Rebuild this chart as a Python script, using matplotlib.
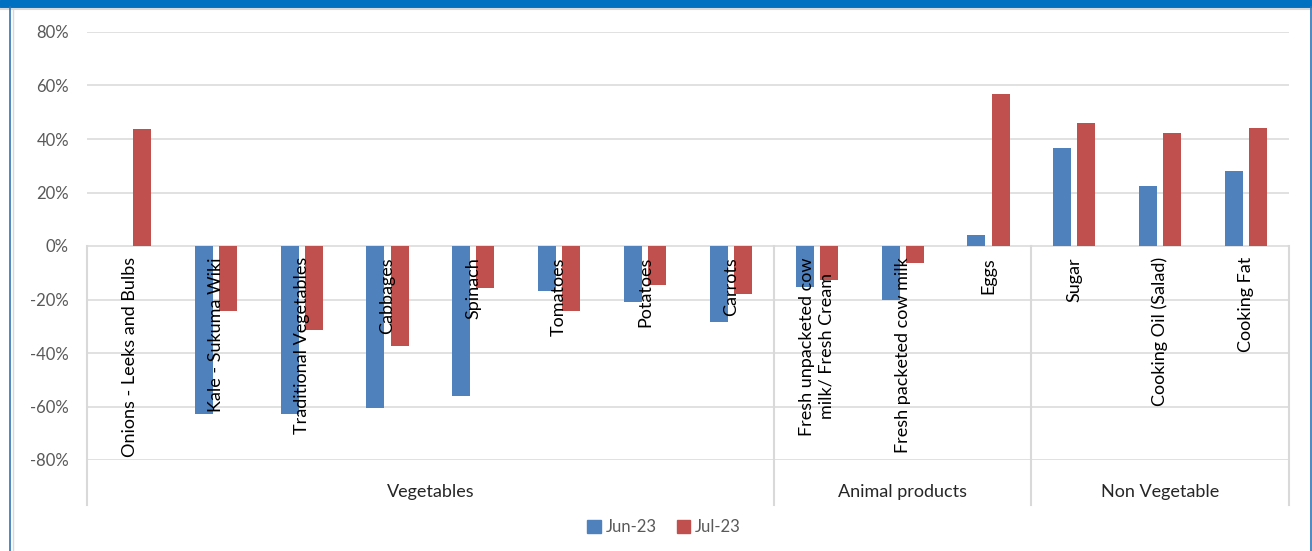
import numpy as np
import matplotlib
matplotlib.use("Agg")
import matplotlib.pyplot as plt
from matplotlib.patches import Rectangle, Patch
from matplotlib.lines import Line2D

plt.rcParams["font.family"] = ["Lato", "DejaVu Sans"]

items = ["Onions - Leeks and Bulbs", "Kale - Sukuma Wiki", "Traditional Vegetables",
         "Cabbages", "Spinach", "Tomatoes", "Potatoes", "Carrots",
         "Fresh unpacketed cow\nmilk/ Fresh Cream", "Fresh packeted cow milk", "Eggs",
         "Sugar", "Cooking Oil (Salad)", "Cooking Fat"]
groups = ["Vegetables", "Animal products", "Non Vegetable"]
group_sizes = [8, 3, 3]
jun23 = [0.0, -62.8, -62.8, -60.6, -56.0, -16.8, -20.9, -28.4,
         -15.3, -20.2, 4.1, 36.6, 22.4, 28.0]
jul23 = [43.7, -24.3, -31.4, -37.4, -15.7, -24.3, -14.6, -17.9,
         -12.7, -6.5, 56.8, 46.0, 42.2, 44.1]
series = ["Jun-23", "Jul-23"]

BLUE, RED = "#4F81BD", "#C0504D"
GRID = "#D9D9D9"
W, H = 1312, 551

fig = plt.figure(figsize=(W / 100, H / 100), dpi=100)

# frame: header band and side rules
fig.patches.append(Rectangle((0, 1 - 7 / H), 1, 7 / H, transform=fig.transFigure,
                             color="#0070C0", zorder=0))
fig.add_artist(Line2D([0, 1], [1 - 8.5 / H] * 2, color=GRID, lw=1.5))
fig.add_artist(Line2D([9.5 / W] * 2, [0, 1 - 7 / H], color="#2E75B6", lw=1.2))
fig.add_artist(Line2D([12.5 / W] * 2, [0, 1 - 9 / H], color=GRID, lw=1))
fig.add_artist(Line2D([1310.5 / W] * 2, [0, 1 - 7 / H], color="#2E75B6", lw=1.2))

left, right, top, bot = 87, 1289, 32, 460
ax = fig.add_axes([left / W, 1 - bot / H, (right - left) / W, (bot - top) / H])

x = np.arange(len(items))
ax.bar(x - 0.14, jun23, width=0.21, color=BLUE, zorder=3, label=series[0])
ax.bar(x + 0.14, jul23, width=0.21, color=RED, zorder=3, label=series[1])

ax.set_xlim(-0.5, len(items) - 0.5)
ax.set_ylim(-80, 80)
ax.set_yticks(np.arange(-80, 81, 20))
ax.set_yticklabels([f"{v}%" for v in range(-80, 81, 20)])
for v in range(-80, 81, 20):
    ax.axhline(v, color=GRID, lw=1.1, zorder=1)
ax.tick_params(axis="y", length=0, pad=13, labelsize=12, labelcolor="#595959")
ax.set_xticks([])
for s in ax.spines.values():
    s.set_visible(False)

# category labels hang below the zero line
for i, lab in enumerate(items):
    ax.annotate(lab, (i, 0), xytext=(0, -8), textcoords="offset points",
                rotation=90, ha="center", va="top", multialignment="center",
                fontsize=13, color="black", zorder=4)

# group separators and group names
ybot = (bot - 505) / (bot - top)
trans = ax.get_xaxis_transform()
edges = np.concatenate([[0], np.cumsum(group_sizes)]) - 0.5
for e in edges:
    ax.plot([e, e], [0.5, ybot], color=GRID, lw=1.5, transform=trans, clip_on=False, zorder=2)
ymid = (bot - 492) / (bot - top)
for g, a, b in zip(groups, edges[:-1], edges[1:]):
    ax.text((a + b) / 2, ymid, g, transform=trans, ha="center", va="center",
            fontsize=13, color="#262626")

handles = [Patch(color=BLUE), Patch(color=RED)]
leg = fig.legend(handles, series, loc="center", bbox_to_anchor=(664 / W, 1 - 527 / H),
                 ncol=2, frameon=False, fontsize=12, handlelength=0.8, handleheight=0.8,
                 handletextpad=0.3, columnspacing=1.2)
for t in leg.get_texts():
    t.set_color("#595959")

fig.savefig("out.png", dpi=100)
